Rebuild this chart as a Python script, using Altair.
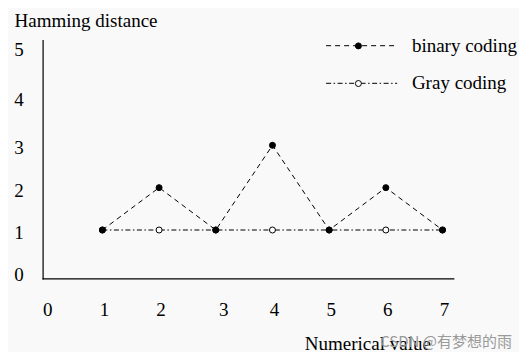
import altair as alt
import pandas as pd

# ---- data ----
x_values = [1, 2, 3, 4, 5, 6, 7]
binary_coding = [1, 2, 1, 3, 1, 2, 1]
gray_coding = [1, 1, 1, 1, 1, 1, 1]
series_names = ["binary coding", "Gray coding"]
x_ticks = [0, 1, 2, 3, 4, 5, 6, 7]
y_ticks = [0, 1, 2, 3, 4, 5]

rows = []
# Gray rows first so the filled binary dots are drawn on top
for name, vals in [(series_names[1], gray_coding), (series_names[0], binary_coding)]:
    for xv, yv in zip(x_values, vals):
        rows.append({"x": xv, "y": yv, "series": name, "series_p": name})
df = pd.DataFrame(rows)

FONT = "Liberation Serif"
W = 410.7
H = 238.3
PAD_L = 34.6
PAD_T = 32

x_enc = alt.X(
    "x:Q",
    scale=alt.Scale(domain=[-0.055, 7.19], nice=False, zero=False),
    axis=alt.Axis(
        values=x_ticks, ticks=False, grid=False,
        domainColor="black", domainWidth=1.2, domainCap="square",
        labelFont=FONT, labelFontSize=19, labelColor="black",
        labelBaseline="alphabetic", labelPadding=37,
        labelOffset={"condition": {"test": "datum.value == 3", "value": 7.5}, "value": 1.5},
        title="Numerical value", titleFont=FONT, titleFontSize=19,
        titleFontWeight="normal", titleColor="black",
        titleX=261.7, titleY=71, titleAlign="left", titleBaseline="alphabetic",
    ),
)
y_enc = alt.Y(
    "y:Q",
    scale=alt.Scale(domain=[-0.14, 5.486], nice=False, zero=False),
    axis=alt.Axis(
        values=y_ticks, ticks=False, grid=False,
        domainColor="black", domainWidth=1.2, domainCap="square",
        labelFont=FONT, labelFontSize=19, labelColor="black",
        labelPadding=19.3,
        labelOffset={"condition": [
            {"test": "datum.value == 5", "value": -11},
            {"test": "datum.value == 4", "value": -3.5},
        ], "value": 2.5},
        title="Hamming distance", titleFont=FONT, titleFontSize=19,
        titleFontWeight="normal", titleColor="black", titleAngle=0,
        titleX=-28.6, titleY=-14, titleAlign="left", titleBaseline="alphabetic",
    ),
)

base = alt.Chart(df).encode(x=x_enc, y=y_enc)

# wide horizontal line symbol with a small nominal size (keeps legend rows compact)
LEGEND_LINE = "M-6,0L6,0"

lines = base.mark_line(color="black", strokeWidth=1).encode(
    strokeDash=alt.StrokeDash(
        "series:N",
        scale=alt.Scale(domain=series_names, range=[[5, 4], [5, 2.5, 1.5, 2.5]]),
        legend=alt.Legend(
            orient="none", legendX=309.5, legendY=-3.8, title=None,
            symbolType=LEGEND_LINE, symbolSize=140, symbolStrokeWidth=1,
            symbolStrokeColor="black", symbolFillColor="transparent",
            labelFont=FONT, labelFontSize=19,
            labelColor="black", labelOffset=40.8, padding=0, rowPadding=17.6,
        ),
    ),
    order=alt.Order("x:Q"),
)

points = base.mark_point(filled=True, stroke="black", strokeWidth=1, size=36, opacity=1).encode(
    fill=alt.Fill(
        "series_p:N",
        sort=series_names,
        scale=alt.Scale(range=["black", "white"]),
        legend=alt.Legend(
            orient="none", legendX=306.3, legendY=-3.6, title="",
            symbolType="circle", symbolSize=36, symbolStrokeWidth=1,
            symbolStrokeColor="black", labelExpr="''", labelFont=FONT,
            labelFontSize=19, padding=0, rowPadding=17.6,
        ),
    ),
)

chart = alt.layer(lines, points).properties(
    width=W, height=H,
    background="#f9f9f9",
    padding={"left": PAD_L, "top": PAD_T, "right": 511 - PAD_L - W, "bottom": 344 - PAD_T - H},
    autosize=alt.AutoSizeParams(type="none"),
    title=alt.TitleParams(
        "CSDN @有梦想的雨", orient="bottom", anchor="end", frame="group",
        font="Noto Sans CJK SC", fontSize=15, color="#9a9a9a",
        fontWeight="normal", dx=58.7, offset=-6, baseline="alphabetic",
    ),
).configure_view(stroke=None).configure_legend(
    labelFont=FONT, labelFontSize=19, labelColor="black"
)

chart.save("out.html", embed_options={"renderer": "svg", "actions": False})
